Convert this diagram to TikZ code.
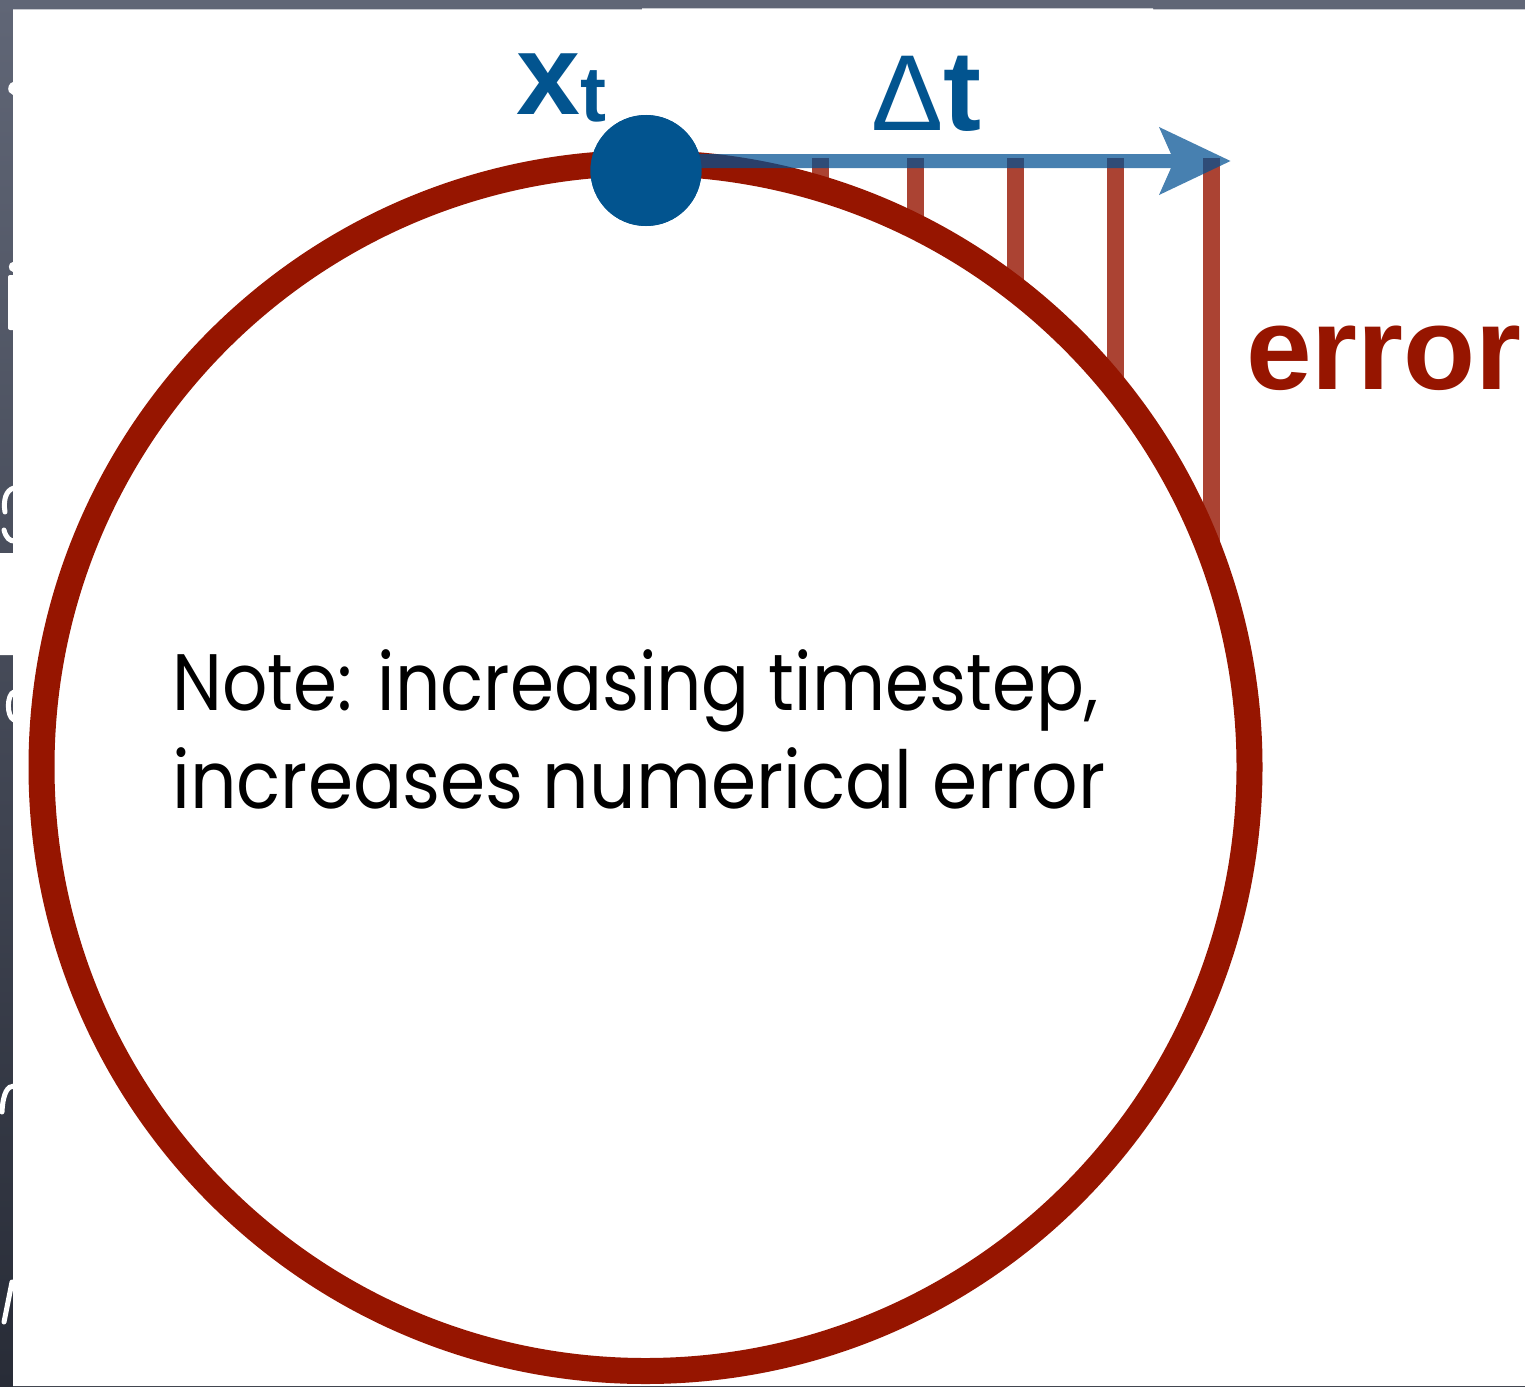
\documentclass[tikz,border=0pt]{standalone}
\usepackage{fontspec}
\newfontfamily\helfont{Liberation Sans}
\newfontfamily\notefont{Poppins}
\definecolor{ringred}{RGB}{150,21,0}
\definecolor{dotblue}{RGB}{2,84,143}
\definecolor{arrowblue}{RGB}{0,80,146}
\definecolor{slidetop}{RGB}{96,102,118}
\definecolor{slidebot}{RGB}{40,44,55}
\begin{document}
\begin{tikzpicture}[x=1pt,y=-1pt,
  errline/.style={draw=ringred, draw opacity=0.8, line width=17pt},
  ringline/.style={draw=ringred, line width=26pt},
  bluelabel/.style={text=dotblue, inner sep=0pt, anchor=base west},
  notetext/.style={inner sep=0pt, anchor=base west, font=\notefont\fontsize{80}{80}\selectfont},
  frag/.style={white, line width=5pt, line cap=round}]
% background slide
\shade[top color=slidetop, bottom color=slidebot] (0,0) rectangle (1525,1386);
\useasboundingbox (0,0) rectangle (1525,1386);
\fill[white] (13,1386) -- (13,655) -- (0,655) -- (0,553) -- (13,553) -- (13,9.5)
  -- (642,9.5) -- (642,8.5) -- (1153,8.5) -- (1153,9.5) -- (1525,9.5) -- (1525,1386) -- cycle;
% fragments of the slide text behind, on the left strip
\fill[white] (13,82) .. controls (9,83) and (7,88) .. (9,92) -- (13,95) -- cycle;
\fill[white] (13,262) .. controls (8,262) and (7,271) .. (13,272) -- cycle;
\fill[white, rounded corners=2pt] (8,275) rectangle (15,330);
\draw[frag] (14,488) .. controls (6,490) and (3,500) .. (5,512);
\draw[frag] (4,530) .. controls (6,538) and (10,541) .. (14,541);
\draw[frag] (14,692) .. controls (7,694) and (6,716) .. (14,720);
\draw[frag] (2,1112) .. controls (3,1092) and (8,1086) .. (14,1086);
\draw[frag] (4,1322) -- (12,1282);
% geometry
\coordinate (c) at (645.5,767);
\coordinate (tip) at (1230.5,161);
% error lines
\foreach \x/\yb in {820/189, 915/227, 1015/289, 1115/387, 1211/555}
  \draw[errline] (\x,158) -- (\x,\yb);
% trajectory circle
\draw[ringline] (c) circle[radius=604];
% dot
\node[circle, fill=dotblue, minimum size=111pt, inner sep=0pt] (dot) at (646,170.5) {};
% time step arrow
\fill[arrowblue, fill opacity=0.72] (dot.center |- 0,154) -- (1171,154) -- (1159,127)
  -- (tip) -- (1159,195) -- (1171,168) -- (dot.center |- 0,168) -- cycle;
\fill[dotblue] (dot) circle[radius=55.5];
% labels
\node[bluelabel, font=\helfont\bfseries\fontsize{115}{115}\selectfont] (xl) at (516,114)
  {x\raisebox{-8pt}{\fontsize{78}{78}\selectfont t}};
\node[bluelabel, font=\helfont\fontsize{108}{108}\selectfont] (dl) at (871,131)
  {Δ\bfseries\fontsize{114}{114}\selectfont t};
\node[text=ringred, inner sep=0pt, anchor=base west, font=\helfont\bfseries\fontsize{118}{118}\selectfont] (err) at (1246,389) {error};
\node[notetext] (n1) at (172,710) {\scalebox{0.887}[1]{Note: increasing timestep,}};
\node[notetext] (n2) at (172,808) {\scalebox{0.91}[1]{increases numerical error}};
\end{tikzpicture}
\end{document}
